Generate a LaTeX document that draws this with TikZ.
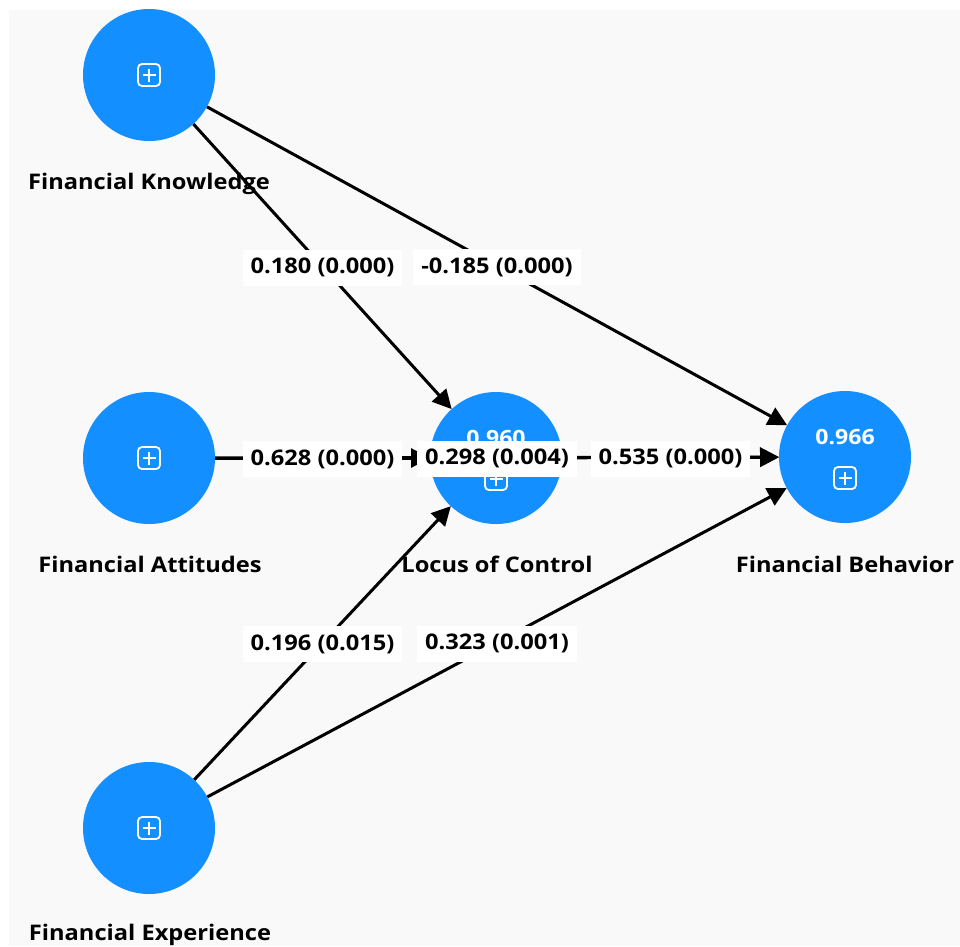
\documentclass[tikz,border=0pt]{standalone}
\usepackage{fontspec}
\setmainfont{Open Sans}[FakeStretch=1.1]
\usetikzlibrary{arrows.meta,calc}
\pgfdeclarelayer{bglayer}
\pgfdeclarelayer{edgelayer}
\pgfdeclarelayer{frontlayer}
\pgfsetlayers{bglayer,edgelayer,main,frontlayer}
\definecolor{nodeblue}{RGB}{20,143,255}
\definecolor{canvas}{RGB}{249,249,249}
\tikzset{
  construct/.style={circle, fill=nodeblue, minimum size=132pt, inner sep=0pt, outer sep=0pt},
  namelabel/.style={font=\bfseries\fontsize{21.5}{24}\selectfont, text=black, inner sep=0pt},
  pathlabel/.style={fill=white, font=\bfseries\fontsize{21.5}{24}\selectfont, text=black, inner xsep=8pt, inner ysep=0pt, minimum height=36pt},
  pathline/.style={line width=3pt, -{Triangle[length=19pt,width=19pt]}},
  valuetext/.style={font=\bfseries\fontsize{21}{24}\selectfont, text=white, inner sep=0pt},
  plusbox/.pic={
    \draw[white, line width=1.8pt, rounded corners=4pt] (-11,-11) rectangle (11,11);
    \draw[white, line width=1.8pt] (-6.5,0) -- (6.5,0) (0,-6.5) -- (0,6.5);
  }
}
\begin{document}
\begin{tikzpicture}[x=1pt,y=-1pt]
\useasboundingbox (0,0) rectangle (960,946);
\begin{pgfonlayer}{bglayer}
  \fill[white] (0,0) rectangle (960,946);
  \fill[canvas] (9,10) rectangle (960,946);
\end{pgfonlayer}

% constructs
\node[construct] (fk)  at (149,75)  {};
\node[construct] (fa)  at (149,458) {};
\node[construct] (loc) at (496,458) {};
\node[construct] (fb)  at (845,457) {};
\node[construct] (fe)  at (149,828) {};

% icons and values
\pic at (fk) {plusbox};
\pic at (fa) {plusbox};
\pic at (fe) {plusbox};
\pic at ($(loc)+(0,21)$) {plusbox};
\pic at ($(fb)+(0,21)$) {plusbox};
\node[valuetext] (locval) at ($(loc)+(0,-20)$) {0.960};
\node[valuetext] (fbval)  at ($(fb)+(0,-20)$) {0.966};

% construct names
\node[namelabel] (fkname)  at (149,183.5) {Financial Knowledge};
\node[namelabel] (faname)  at (150,564.5) {Financial Attitudes};
\node[namelabel] (locname) at (497,564.5) {Locus of Control};
\node[namelabel] (fbname)  at (845,564.5) {Financial Behavior};
\node[namelabel] (fename)  at (150,934.5) {Financial Experience};

% paths
\begin{pgfonlayer}{edgelayer}
  \draw[pathline] (fk) -- (loc);
  \draw[pathline] (fk) -- (fb);
  \draw[pathline] (fa) -- (loc);
  \draw[pathline] (fa) -- (fb);
  \draw[pathline] (loc) -- (fb);
  \draw[pathline] (fe) -- (loc);
  \draw[pathline] (fe) -- (fb);
\end{pgfonlayer}

% path coefficients
\begin{pgfonlayer}{frontlayer}
  \node[pathlabel] (c1) at ($(fk)!0.5!(loc)+(0,1)$) {0.180 (0.000)};
  \node[pathlabel] (c2) at ($(fk)!0.5!(fb)+(0,1)$)  {-0.185 (0.000)};
  \node[pathlabel] (c3) at ($(fa)!0.5!(loc)+(0,1)$) {0.628 (0.000)};
  \node[pathlabel] (c4) at ($(fa)!0.5!(fb)+(0,1)$)  {0.298 (0.004)};
  \node[pathlabel] (c5) at ($(loc)!0.5!(fb)+(0,1)$) {0.535 (0.000)};
  \node[pathlabel] (c6) at ($(fe)!0.5!(loc)+(0,1)$) {0.196 (0.015)};
  \node[pathlabel] (c7) at ($(fe)!0.5!(fb)+(0,1)$)  {0.323 (0.001)};
\end{pgfonlayer}
\end{tikzpicture}
\end{document}
